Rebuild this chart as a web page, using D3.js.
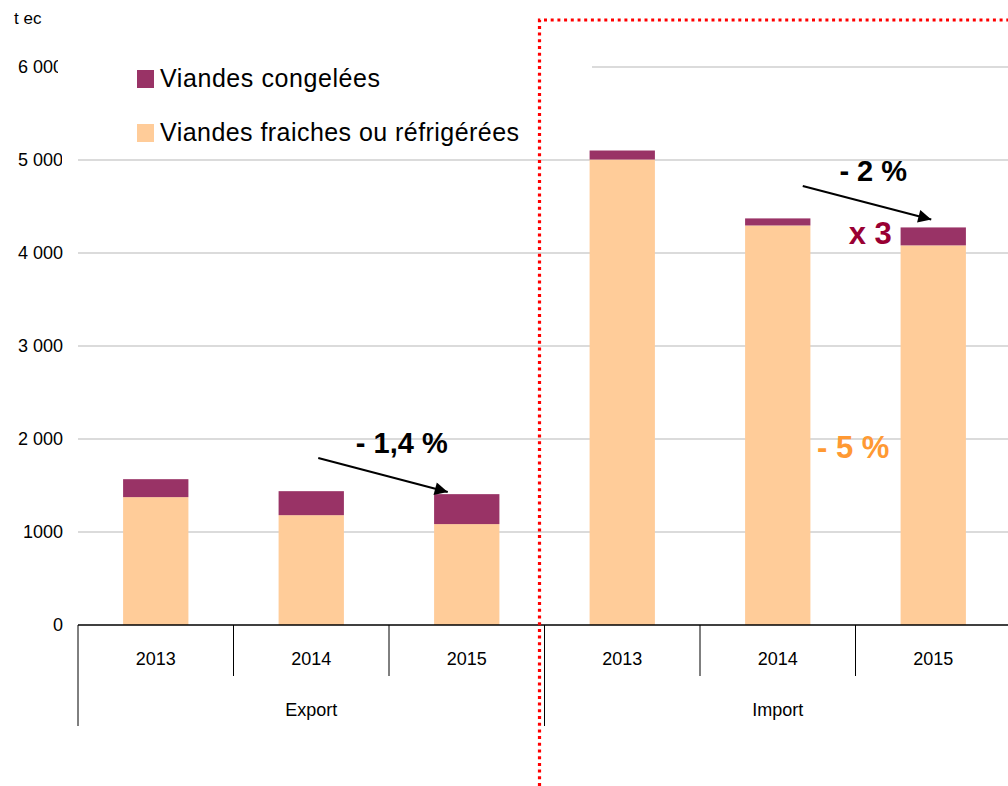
<!DOCTYPE html>
<html>
<head>
<meta charset="utf-8">
<script src="https://cdn.jsdelivr.net/npm/d3@7"></script>
<style>
  body { margin: 0; background: #fff; }
  text { font-family: "Liberation Sans", Arial, sans-serif; }
</style>
</head>
<body>
<svg id="canvas" width="1008" height="786"></svg>
<script>
// data (tec)
let years = ["2013", "2014", "2015", "2013", "2014", "2015"];
let flows = ["Export", "Export", "Export", "Import", "Import", "Import"];
let groups = ["Export", "Import"];
let fresh = [1375, 1181, 1085, 5005, 4296, 4082];
let frozen = [193, 258, 322, 97, 76, 193];
let yTicks = [0, 1000, 2000, 3000, 4000, 5000, 6000];
let yTickLabels = ["0", "1000", "2 000", "3 000", "4 000", "5 000", "6 000"];
let seriesNames = ["Viandes congelées", "Viandes fraiches ou réfrigérées"];
let colors = { fresh: "#FFCC99", frozen: "#993366" };

let svg = d3.select("#canvas");

let plotLeft = 78, plotRight = 1011, plotTop = 67, plotBottom = 625;

let x = d3.scaleBand()
  .domain(d3.range(years.length))
  .range([plotLeft, plotRight])
  .padding(0);

let y = d3.scaleLinear()
  .domain([0, 6000])
  .range([plotBottom, plotTop]);

let barW = x.bandwidth() * 0.42;
let cx = (i) => x(i) + x.bandwidth() / 2;

// gridlines
svg.append("g").selectAll("line")
  .data(yTicks.slice(1))
  .enter().append("line")
  .attr("x1", plotLeft).attr("x2", 1008)
  .attr("y1", d => y(d)).attr("y2", d => y(d))
  .attr("stroke", "#cfcfcf").attr("stroke-width", 1.3);

// y labels (the top two are clipped in the original)
let defs = svg.append("defs");
let clip = defs.append("clipPath").attr("id", "yclip");
clip.append("rect").attr("x", 0).attr("y", 0).attr("width", 58).attr("height", 110);
clip.append("rect").attr("x", 0).attr("y", 110).attr("width", 62).attr("height", 90);
clip.append("rect").attr("x", 0).attr("y", 200).attr("width", 70).attr("height", 500);

svg.append("g").attr("clip-path", "url(#yclip)")
  .selectAll("text")
  .data(yTicks)
  .enter().append("text")
  .attr("x", 63)
  .attr("y", d => y(d) + 6)
  .attr("text-anchor", "end")
  .attr("font-size", 18)
  .attr("fill", "#000")
  .text((d, i) => yTickLabels[i]);

svg.append("text")
  .attr("x", 14).attr("y", 24)
  .attr("font-size", 17)
  .text("t ec");

// stacked bars
let rows = years.map((yr, i) => ({ i: i, fresh: fresh[i], frozen: frozen[i] }));
let stack = d3.stack().keys(["fresh", "frozen"])(rows);

svg.append("g").selectAll("g")
  .data(stack)
  .enter().append("g")
  .attr("fill", d => colors[d.key])
  .selectAll("rect")
  .data(d => d)
  .enter().append("rect")
  .attr("x", d => cx(d.data.i) - barW / 2)
  .attr("width", barW)
  .attr("y", d => y(d[1]))
  .attr("height", d => y(d[0]) - y(d[1]));

// x axis
let axis = svg.append("g").attr("stroke", "#000").attr("stroke-width", 1.3);
axis.append("line")
  .attr("x1", plotLeft).attr("x2", 1008)
  .attr("y1", plotBottom).attr("y2", plotBottom);
axis.selectAll(".tk")
  .data(d3.range(years.length))
  .enter().append("line")
  .attr("x1", d => x(d)).attr("x2", d => x(d))
  .attr("y1", plotBottom)
  .attr("y2", d => (d % 3 === 0) ? plotBottom + 101 : plotBottom + 51)
  .attr("stroke-width", 1);

svg.append("g").selectAll("text")
  .data(years)
  .enter().append("text")
  .attr("x", (d, i) => cx(i))
  .attr("y", plotBottom + 40)
  .attr("text-anchor", "middle")
  .attr("font-size", 18)
  .text(d => d);

svg.append("g").selectAll("text")
  .data(groups)
  .enter().append("text")
  .attr("x", (d, g) => (x(g * 3) + x(g * 3 + 2) + x.bandwidth()) / 2)
  .attr("y", plotBottom + 91)
  .attr("text-anchor", "middle")
  .attr("font-size", 18)
  .text(d => d);

// legend (white box hides the top gridline on the left)
let lg = svg.append("g");
lg.append("rect").attr("x", 70).attr("y", 40).attr("width", 522).attr("height", 110).attr("fill", "#fff");
let legendKeys = ["frozen", "fresh"];
legendKeys.forEach((k, i) => {
  let yy = 70 + i * 54;
  lg.append("rect").attr("x", 137).attr("y", yy).attr("width", 17).attr("height", 18).attr("fill", colors[k]);
  lg.append("text").attr("x", 160).attr("y", yy + 17).attr("font-size", 25)
    .attr("textLength", i === 0 ? 220 : 359).attr("lengthAdjust", "spacing")
    .text(seriesNames[i]);
});

// red dotted separator
let sepX = x(3) - 5;
svg.append("path")
  .attr("d", `M${sepX},786 L${sepX},20 L1008,20`)
  .attr("fill", "none")
  .attr("stroke", "#ff0000")
  .attr("stroke-width", 3.2)
  .attr("stroke-dasharray", "3,3.7");

// annotations
defs.append("marker")
  .attr("id", "arr")
  .attr("viewBox", "0 0 10 10")
  .attr("refX", 10).attr("refY", 5)
  .attr("markerWidth", 16).attr("markerHeight", 13)
  .attr("markerUnits", "userSpaceOnUse")
  .attr("orient", "auto")
  .append("path").attr("d", "M0,0 L10,5 L0,10 Z").attr("fill", "#000");

let arrows = [
  { x1: cx(1) + 7, v1: 1796, x2: cx(2) - 19, v2: 1430 },
  { x1: cx(4) + 25, v1: 4720, x2: cx(5) - 2, v2: 4360 }
];
svg.append("g").selectAll("line")
  .data(arrows)
  .enter().append("line")
  .attr("x1", d => d.x1).attr("y1", d => y(d.v1))
  .attr("x2", d => d.x2).attr("y2", d => y(d.v2))
  .attr("stroke", "#000").attr("stroke-width", 2)
  .attr("marker-end", "url(#arr)");

let notes = [
  { t: "- 1,4 %", x: cx(2) - 65, v: 1845, c: "#000", s: 29 },
  { t: "- 2 %", x: cx(5) - 60, v: 4770, c: "#000", s: 29 },
  { t: "x 3", x: cx(5) - 63, v: 4100, c: "#990033", s: 31 },
  { t: "- 5 %", x: cx(5) - 80, v: 1800, c: "#FF9933", s: 31 }
];
svg.append("g").selectAll("text")
  .data(notes)
  .enter().append("text")
  .attr("x", d => d.x).attr("y", d => y(d.v))
  .attr("text-anchor", "middle")
  .attr("font-size", d => d.s)
  .attr("font-weight", "bold")
  .attr("fill", d => d.c)
  .text(d => d.t);
</script>
</body>
</html>
